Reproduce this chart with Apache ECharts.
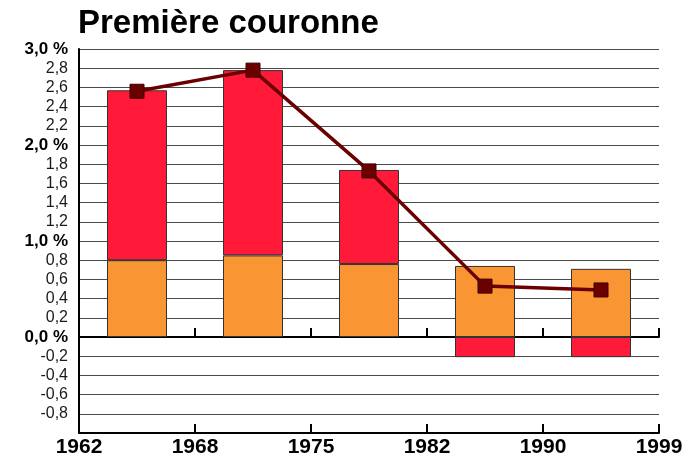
<!DOCTYPE html>
<html>
<head>
<meta charset="utf-8">
<script src="https://cdn.jsdelivr.net/npm/echarts@6/dist/echarts.min.js"></script>
<style>
html,body{margin:0;padding:0;background:#fff;}
#chart{width:687px;height:461px;}
</style>
</head>
<body>
<div id="chart"></div>
<script>
const periods = ['1962-1968', '1968-1975', '1975-1982', '1982-1990', '1990-1999'];
const yearLabels = ['1962', '1968', '1975', '1982', '1990', '1999'];
const orangeValues = [0.80, 0.85, 0.76, 0.74, 0.71];
const redValues = [1.77, 1.93, 0.98, -0.21, -0.21];
const totalValues = [2.56, 2.78, 1.73, 0.53, 0.49];

const chart = echarts.init(document.getElementById('chart'));
const fontFam = '"Liberation Sans", Arial, sans-serif';

chart.setOption({
  animation: false,
  backgroundColor: '#fff',
  title: {
    text: 'Première couronne',
    left: 78, top: 7, padding: 0,
    textStyle: {fontFamily: fontFam, fontWeight: 'bold', fontSize: 33, color: '#000'}
  },
  grid: {left: 79, right: 28, top: 49, bottom: 28, containLabel: false},
  xAxis: [
    {
      type: 'category', data: periods, boundaryGap: true, position: 'bottom',
      axisLine: {show: true, onZero: true, lineStyle: {color: '#000', width: 2}},
      axisTick: {show: true, inside: true, length: 9, lineStyle: {color: '#000', width: 2}},
      axisLabel: {show: false},
      splitLine: {show: false}
    },
    {
      type: 'category', data: yearLabels, boundaryGap: false, position: 'bottom',
      axisLine: {show: true, onZero: false, lineStyle: {color: '#000', width: 2}},
      axisTick: {show: true, inside: true, length: 9, lineStyle: {color: '#000', width: 2}},
      axisLabel: {show: true, interval: 0, margin: 4, fontFamily: fontFam, fontWeight: 'bold', fontSize: 21, color: '#000'},
      splitLine: {show: false}
    }
  ],
  yAxis: {
    type: 'value', min: -1, max: 3, interval: 0.2,
    axisLine: {show: true, lineStyle: {color: '#000', width: 2}},
    axisTick: {show: false},
    splitLine: {show: true, lineStyle: {color: '#4a4a4a', width: 1}},
    axisLabel: {
      margin: 11,
      formatter: function (v) {
        if (v < -0.99) return '';
        const r = Math.round(v);
        if (Math.abs(v - r) < 1e-6) {
          return '{b|' + r.toFixed(1).replace('.', ',') + ' %}';
        }
        return '{n|' + v.toFixed(1).replace('.', ',') + '}';
      },
      rich: {
        b: {fontFamily: fontFam, fontWeight: 'bold', fontSize: 17, color: '#000'},
        n: {fontFamily: fontFam, fontSize: 16, color: '#1a1a1a'}
      }
    }
  },
  series: [
    {
      name: 'base', type: 'bar', stack: 'total', xAxisIndex: 0, data: orangeValues,
      barWidth: 60,
      itemStyle: {color: '#FA9533', borderColor: '#333', borderWidth: 1}
    },
    {
      name: 'extra', type: 'bar', stack: 'total', xAxisIndex: 0, data: redValues,
      barWidth: 60,
      itemStyle: {color: '#FF1A3A', borderColor: '#333', borderWidth: 1}
    },
    {
      name: 'total', type: 'line', xAxisIndex: 0, data: totalValues,
      symbol: 'rect', symbolSize: 14, z: 5,
      lineStyle: {color: '#6B0000', width: 3.5},
      itemStyle: {color: '#6B0000', borderColor: '#3A0000', borderWidth: 1}
    }
  ]
});
</script>
</body>
</html>
